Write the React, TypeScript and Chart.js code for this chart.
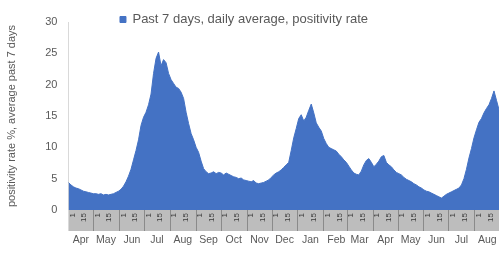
import React, { useEffect, useRef } from "react";
import { Chart, registerables } from "chart.js";

Chart.register(...registerables);

// ---- data ----
const startYear = 2020;
const startMonth = 3; // April (0-based)
const stepDays = 3; // one value every 3 days
const monthNames = ["Apr", "May", "Jun", "Jul", "Aug", "Sep", "Oct", "Nov", "Dec", "Jan", "Feb", "Mar", "Apr", "May", "Jun", "Jul", "Aug"];
const dayLabels = [1, 15];
const yTicks = [0, 5, 10, 15, 20, 25, 30];
const seriesLabel = "Past 7 days, daily average, positivity rate";
const yTitle = "positivity rate %, average past 7 days";

const positivity = [
  4.4, 4.0, 3.7, 3.5, 3.4, 3.2, 3.0, 2.9, 2.8, 2.7,
  2.6, 2.6, 2.5, 2.6, 2.4, 2.5, 2.4, 2.5, 2.6, 2.8,
  3.0, 3.3, 3.8, 4.5, 5.4, 6.5, 8.0, 9.5, 11.2, 13.5,
  14.8, 15.6, 16.8, 18.5, 21.8, 24.2, 25.2, 23.0, 24.0, 23.5,
  21.8, 20.8, 20.2, 19.6, 19.4, 18.8, 17.8, 15.6, 13.8, 12.2,
  11.2, 10.0, 9.2, 7.8, 6.6, 6.1, 5.8, 5.9, 6.1, 5.8,
  6.0, 5.9, 5.6, 5.9, 5.7, 5.5, 5.3, 5.2, 5.0, 5.1,
  4.8, 4.7, 4.6, 4.5, 4.7, 4.3, 4.2, 4.3, 4.4, 4.6,
  4.8, 5.2, 5.6, 5.9, 6.1, 6.4, 6.8, 7.2, 7.6, 9.5,
  11.5, 13.0, 14.6, 15.2, 14.2, 14.8, 15.9, 16.9, 15.5, 13.9,
  13.2, 12.6, 11.4, 10.6, 10.0, 9.8, 9.6, 9.4, 8.9, 8.5,
  8.0, 7.6, 7.0, 6.4, 5.9, 5.7, 5.6, 6.2, 7.2, 7.9,
  8.2, 7.6, 6.9, 7.3, 7.8, 8.5, 8.7, 7.6, 7.2, 6.9,
  6.4, 6.0, 5.8, 5.6, 5.2, 4.9, 4.7, 4.5, 4.2, 4.0,
  3.7, 3.5, 3.2, 3.0, 2.9, 2.7, 2.5, 2.3, 2.1, 1.9,
  2.2, 2.5, 2.7, 2.9, 3.1, 3.3, 3.5, 4.0, 5.0, 6.5,
  8.3, 9.8, 11.5, 12.8, 14.0, 14.6, 15.5, 16.2, 16.8, 17.8,
  19.0, 17.5, 16.0,
];

const FILL = "#4472C4";
const TEXT = "#595959";
const FONT = "'Liberation Sans', Arial, sans-serif";

const DAY_MS = 86400000;
const base = Date.UTC(startYear, startMonth, 1);
const dayOffset = (m: number, d: number) => (Date.UTC(startYear, startMonth + m, d) - base) / DAY_MS;

const points = positivity.map((v, i) => ({ x: i * stepDays, y: v }));
const xMax = (positivity.length - 1) * stepDays;

const monthStarts = new Set<number>();
const dayTicks: number[] = [];
const dayTickText = new Map<number, string>();
monthNames.forEach((_, m) => {
  dayLabels.forEach((d) => {
    const v = dayOffset(m, d);
    if (v <= xMax) {
      dayTicks.push(v);
      dayTickText.set(v, String(d));
    }
  });
  if (m > 0) monthStarts.add(dayOffset(m, 1));
});
const monthCenters = monthNames.map((_, m) => Math.min(dayOffset(m, 16), xMax - 10));
const monthText = new Map<number, string>();
monthCenters.forEach((v, m) => monthText.set(v, monthNames[m]));

// moves the legend box closer to the plot, like the original layout
const legendShift = {
  id: "legendShift",
  afterLayout(chart: any) {
    const l = chart.legend;
    if (!l) return;
    l.top += 14;
    l.bottom += 14;
    l.left -= 8;
    l.right -= 8;
  },
};

export default function App() {
  const ref = useRef<HTMLCanvasElement>(null);
  useEffect(() => {
    Chart.defaults.font.family = FONT;
    const chart = new Chart(ref.current!, {
      type: "line",
      plugins: [legendShift],
      data: {
        datasets: [
          {
            label: seriesLabel,
            data: points,
            xAxisID: "x",
            yAxisID: "y",
            fill: "origin",
            backgroundColor: FILL,
            borderColor: FILL,
            borderWidth: 1,
            pointRadius: 0,
            tension: 0,
          },
        ],
      },
      options: {
        animation: false,
        responsive: true,
        maintainAspectRatio: false,
        layout: { autoPadding: false, padding: { top: -1, left: 5, right: 5, bottom: 0 } },
        plugins: {
          tooltip: { enabled: false },
          legend: {
            position: "top",
            labels: {
              boxWidth: 6,
              boxHeight: 6,
              padding: 0,
              color: TEXT,
              font: { size: 13, family: FONT },
            },
          },
        },
        scales: {
          y: {
            min: 0,
            max: 30,
            afterBuildTicks: (axis: any) => {
              axis.ticks = yTicks.map((v) => ({ value: v }));
            },
            grid: { display: false, drawTicks: false },
            border: { display: true, color: "#d9d9d9" },
            ticks: { color: TEXT, font: { size: 11, family: FONT }, padding: 11 },
            title: {
              display: true,
              text: yTitle,
              color: TEXT,
              font: { size: 11, family: FONT },
              padding: { top: 0, bottom: 16 },
            },
          },
          x: {
            type: "linear",
            position: "bottom",
            min: 0,
            max: xMax,
            weight: 0,
            backgroundColor: "#bdbdbd",
            afterBuildTicks: (axis: any) => {
              axis.ticks = dayTicks.map((v) => ({ value: v }));
            },
            afterFit: (axis: any) => {
              axis.height = 21;
            },
            border: { display: false },
            grid: {
              display: true,
              drawOnChartArea: false,
              drawTicks: true,
              tickLength: 21,
              color: (ctx: any) => (ctx.tick && monthStarts.has(ctx.tick.value) ? "#8a8a8a" : "rgba(0,0,0,0)"),
            },
            ticks: {
              autoSkip: false,
              minRotation: 90,
              maxRotation: 90,
              padding: -18,
              labelOffset: 4,
              color: "#3a3a3a",
              font: { size: 8, family: FONT },
              callback: (v: any) => dayTickText.get(v) ?? "",
            },
          },
          x2: {
            type: "linear",
            position: "bottom",
            min: 0,
            max: xMax,
            weight: 1,
            afterBuildTicks: (axis: any) => {
              axis.ticks = monthCenters.map((v) => ({ value: v }));
            },
            afterFit: (axis: any) => {
              axis.height = 22;
            },
            border: { display: false },
            grid: { display: false, drawTicks: false },
            ticks: {
              autoSkip: false,
              minRotation: 0,
              maxRotation: 0,
              padding: 3,
              color: TEXT,
              font: { size: 10.5, family: FONT },
              callback: (v: any) => monthText.get(v) ?? "",
            },
          },
        },
      },
    } as any);
    return () => chart.destroy();
  }, []);
  return (
    <div style={{ position: "absolute", left: 0, top: 0, width: 504, height: 253, background: "#fff" }}>
      <canvas ref={ref} />
    </div>
  );
}
